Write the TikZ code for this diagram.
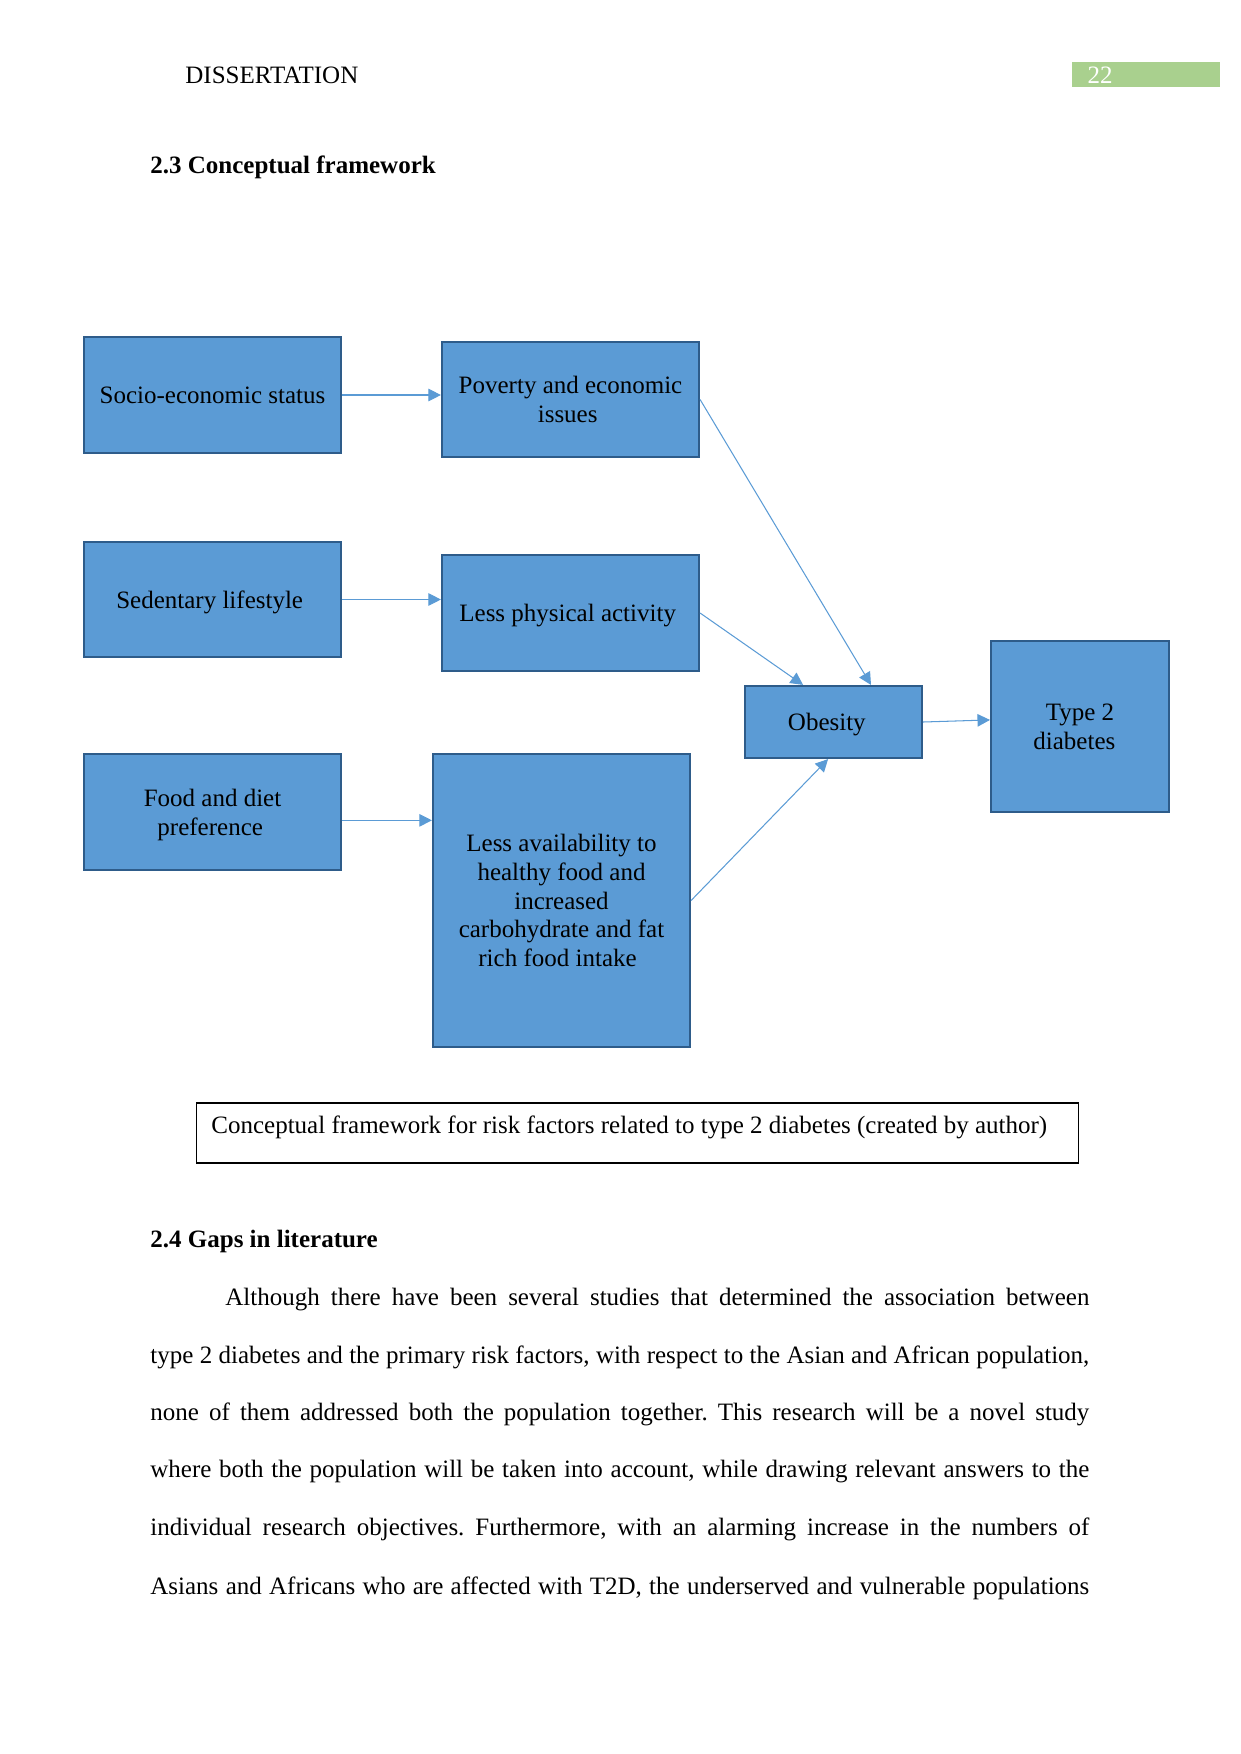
\documentclass[tikz,border=0pt]{standalone}
\usepackage{fontspec}
\setmainfont{Liberation Serif}
\usepackage{xcolor}
\usetikzlibrary{arrows.meta, positioning, calc}
\definecolor{BoxBlue}{HTML}{5B9BD5}
\definecolor{BoxEdge}{HTML}{2E5C8A}
\definecolor{LinkBlue}{HTML}{5B9BD5}
\definecolor{PageGreen}{HTML}{A9D08E}
\frenchspacing
\tikzset{
  >=latex,
  % boxes of the framework
  factor/.style={draw=BoxEdge,fill=BoxBlue,line width=1pt,inner sep=2pt,align=center,
    text depth=0pt,font=\fontsize{12pt}{13.8pt}\selectfont,
    minimum width=123.4pt,minimum height=55.5pt},
  factor tall/.style={factor,minimum height=140.6pt},
  factor small/.style={factor,minimum width=85pt,minimum height=34.6pt},
  factor square/.style={factor,minimum width=85.4pt,minimum height=82pt},
  % connections
  link/.style={-{Triangle[length=6pt,width=6pt]},line width=0.5pt,LinkBlue},
  % page text
  pagetext/.style={anchor=west,inner sep=0pt}
}
\newcommand{\fullline}[2][450.7pt]{\makebox[#1][s]{#2}}
\newcommand{\tail}[1]{\hspace*{#1}}

\begin{document}
\begin{tikzpicture}[x=0.48pt,y=-0.48pt,font=\fontsize{12pt}{14.5pt}\selectfont]
    \useasboundingbox (0,0) rectangle (1241,1754);
    % header
    \node[pagetext] (head) at (185,75) {DISSERTATION};
    \node[fill=PageGreen,minimum width=71pt,minimum height=12pt,inner sep=0pt] (pagebar) at (1146,74.5) {};
    \node[text=white] (pagenum) at (1100,75) {22};
    \node[pagetext] (sec23) at (150,167) {\textbf{2.3 Conceptual framework}};

    % framework
    \node[factor] (socio) at (212.5,395) {Socio-economic status};
    \node[factor] (poverty) at (570.5,399.5) {Poverty and economic\\issues\tail{2.7pt}};
    \node[factor] (sedentary) at (212.5,599.5) {Sedentary lifestyle\tail{2.7pt}};
    \node[factor] (lessact) at (570.5,613) {Less physical activity\tail{2.7pt}};
    \node[factor] (food) at (212.5,812) {Food and diet\\preference\tail{2.2pt}};
    \node[factor tall] (avail) at (561.5,900.5) {Less availability to\\healthy food and\\increased\\carbohydrate and fat\\rich food intake\tail{3.8pt}};
    \node[factor small] (obesity) at (833.5,722) {Obesity\tail{6.4pt}};
    \node[factor square] (t2d) at (1080,726.5) {Type 2\\diabetes\tail{5.4pt}};

    \draw[link] (socio.east) -- (socio.east -| poverty.west);
    \draw[link] (sedentary.east) -- (sedentary.east -| lessact.west);
    \draw[link] ([yshift=-4pt]food.east) -- ([yshift=-4pt]food.east -| avail.west);
    \draw[link] (poverty.east) -- ([xshift=18pt]obesity.north);
    \draw[link] (lessact.east) -- ([xshift=-14.6pt]obesity.north);
    \draw[link] (avail.east) -- ([xshift=-2.6pt]obesity.south);
    \draw[link] (obesity.east) -- ([yshift=1pt]obesity.east -| t2d.west);

    % caption
    \node[draw,line width=0.5pt,minimum width=423.8pt,minimum height=28.8pt,inner sep=0pt] (capbox) at (637.5,1133) {};
    \node[pagetext] (caption) at (211,1127) {Conceptual framework for risk factors related to type 2 diabetes (created by author)};

    % next section
    \node[pagetext] (sec24) at (150,1241) {\textbf{2.4 Gaps in literature}};
    \node[pagetext] (line1) at (225,1300) {\fullline[414.7pt]{Although there have been several studies that determined the association between}};
    \node[pagetext] (line2) at (150,1357) {\fullline{type 2 diabetes and the primary risk factors, with respect to the Asian and African population,}};
    \node[pagetext] (line3) at (150,1414) {\fullline{none of them addressed both the population together. This research will be a novel study}};
    \node[pagetext] (line4) at (150,1472) {\fullline{where both the population will be taken into account, while drawing relevant answers to the}};
    \node[pagetext] (line5) at (150,1529) {\fullline{individual research objectives. Furthermore, with an alarming increase in the numbers of}};
    \node[pagetext] (line6) at (150,1588) {\fullline{Asians and Africans who are affected with T2D, the underserved and vulnerable populations}};
\end{tikzpicture}
\end{document}
